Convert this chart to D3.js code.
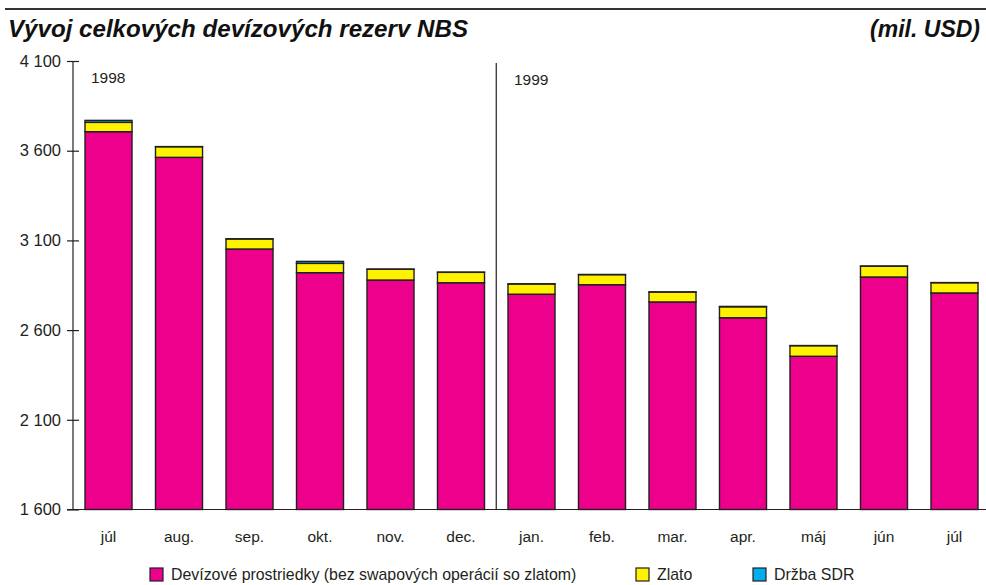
<!DOCTYPE html>
<html>
<head>
<meta charset="utf-8">
<script src="https://cdn.jsdelivr.net/npm/d3@7"></script>
<style>
  body { margin: 0; background: #fff; }
  svg { display: block; font-family: "Liberation Sans", Arial, sans-serif; }
</style>
</head>
<body>
<div id="chart"></div>
<script>
// data (mil. USD)
const months = ["júl", "aug.", "sep.", "okt.", "nov.", "dec.", "jan.", "feb.", "mar.", "apr.", "máj", "jún", "júl"];
const devizy = [3706, 3563, 3052, 2920, 2879, 2864, 2800, 2853, 2757, 2669, 2454, 2896, 2807];
const zlato  = [52, 59, 56, 52, 60, 58, 57, 56, 55, 61, 59, 60, 57];
const sdr    = [11, 1, 1, 11, 1, 1, 1, 1, 1, 2, 1, 1, 1];
const yTicks = [1600, 2100, 2600, 3100, 3600, 4100];
const years = [{label: "1998", idx: 0}, {label: "1999", idx: 6}];
const seriesNames = ["Devízové prostriedky (bez swapových operácií so zlatom)", "Zlato", "Držba SDR"];

const width = 986, height = 585;
const colors = ["#ec008c", "#fff200", "#00aeef"];

const svg = d3.select("#chart").append("svg")
    .attr("width", width)
    .attr("height", height);

// top rule + title
svg.append("line")
    .attr("x1", 5).attr("x2", 986).attr("y1", 9).attr("y2", 9)
    .attr("stroke", "#333").attr("stroke-width", 2);
svg.append("text")
    .attr("x", 8).attr("y", 37)
    .attr("font-size", 23).attr("font-weight", "bold").attr("font-style", "italic")
    .attr("fill", "#111")
    .attr("textLength", 460).attr("lengthAdjust", "spacingAndGlyphs")
    .text("Vývoj celkových devízových rezerv NBS");
svg.append("text")
    .attr("x", 980).attr("y", 37)
    .attr("text-anchor", "end")
    .attr("font-size", 23).attr("font-weight", "bold").attr("font-style", "italic")
    .attr("fill", "#111")
    .text("(mil. USD)");

// scales
const x = d3.scaleBand()
    .domain(d3.range(months.length))
    .range([85, 978])
    .paddingInner(0.333)
    .paddingOuter(0);

const y = d3.scaleLinear()
    .domain([1600, 4100])
    .range([509.5, 61]);

const rows = months.map((m, i) => ({i: i, d: devizy[i], z: zlato[i], s: sdr[i]}));
const stack = d3.stack().keys(["d", "z", "s"]);
const stacked = stack(rows);

// bars (axis starts at 1600, clip bottom there)
svg.append("g")
    .selectAll("g")
    .data(stacked)
    .join("g")
    .attr("fill", (d, k) => colors[k])
    .selectAll("rect")
    .data(d => d)
    .join("rect")
    .attr("x", d => x(d.data.i))
    .attr("y", d => y(d[1]))
    .attr("width", x.bandwidth())
    .attr("height", d => y(Math.max(d[0], 1600)) - y(d[1]))
    .attr("stroke", "#231f20")
    .attr("stroke-width", 1.4);

// y axis
const yAxis = d3.axisLeft(y)
    .tickValues(yTicks)
    .tickSize(6)
    .tickFormat(d => d3.format(",")(d).replace(",", " "));

const ga = svg.append("g")
    .attr("transform", "translate(73,0)")
    .call(yAxis);
ga.select(".domain").remove();
ga.selectAll(".tick line")
    .attr("x1", -6).attr("x2", 6)
    .attr("stroke", "#231f20").attr("stroke-width", 1.2);
ga.selectAll(".tick text")
    .attr("x", -12)
    .attr("font-size", 16.5)
    .attr("fill", "#231f20")
    .attr("font-family", "Liberation Sans, Arial, sans-serif");

svg.append("line")
    .attr("x1", 73).attr("x2", 73)
    .attr("y1", y(4100)).attr("y2", y(1600))
    .attr("stroke", "#231f20").attr("stroke-width", 1.2);
svg.append("line")
    .attr("x1", 67).attr("x2", 986)
    .attr("y1", y(1600)).attr("y2", y(1600))
    .attr("stroke", "#231f20").attr("stroke-width", 1.2);

// separator between years
const sepX = (x(5) + x.bandwidth() + x(6)) / 2;
svg.append("line")
    .attr("x1", sepX).attr("x2", sepX)
    .attr("y1", 63).attr("y2", y(1600))
    .attr("stroke", "#231f20").attr("stroke-width", 1.2);

svg.selectAll(".year")
    .data(years)
    .join("text")
    .attr("class", "year")
    .attr("x", d => x(d.idx) + 6)
    .attr("y", d => d.idx === 0 ? 83 : 85)
    .attr("font-size", 15.5)
    .attr("fill", "#231f20")
    .text(d => d.label);

// x labels
svg.selectAll(".mlab")
    .data(months)
    .join("text")
    .attr("class", "mlab")
    .attr("x", (d, i) => x(i) + x.bandwidth() / 2)
    .attr("y", 542)
    .attr("text-anchor", "middle")
    .attr("font-size", 15.5)
    .attr("fill", "#231f20")
    .text(d => d);

// legend
const legendX = [150, 636, 753];
const leg = svg.selectAll(".leg")
    .data(seriesNames)
    .join("g")
    .attr("class", "leg")
    .attr("transform", (d, i) => `translate(${legendX[i]},568)`);
leg.append("rect")
    .attr("width", 13).attr("height", 13)
    .attr("fill", (d, i) => colors[i])
    .attr("stroke", "#231f20").attr("stroke-width", 1.2);
leg.append("text")
    .attr("x", 21).attr("y", 12)
    .attr("font-size", 15.9)
    .attr("fill", "#231f20")
    .text(d => d);
</script>
</body>
</html>
